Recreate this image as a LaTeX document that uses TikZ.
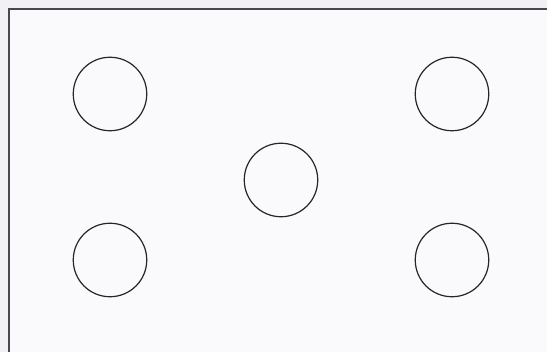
\documentclass[tikz,border=0pt]{standalone}
\usepackage{tikz}
\usepackage{xcolor}
\definecolor{pagebg}{HTML}{F1F1F5}
\definecolor{framebg}{HTML}{FAFAFC}
\definecolor{framedraw}{HTML}{48484C}
\tikzstyle{spot}  = [circle, minimum size=73.5pt, inner sep=0pt, draw=black!85, line width=1.2pt]
\tikzstyle{frame} = [draw=framedraw, line width=2pt, fill=framebg]

\begin{document}
\begin{tikzpicture}[x=1pt, y=1pt]
  \useasboundingbox (0,0) rectangle (547,352);
  \fill[pagebg] (0,0) rectangle (547,352);
  \begin{scope}
    \clip (0,0) rectangle (547,352);
    \draw[frame] (9.2,342.5) rectangle (580,-30);
  \end{scope}

  \node (tl)  [spot] at (110,258) {};
  \node (tr)  [spot] at (452,258) {};
  \node (mid) [spot] at (281,172) {};
  \node (bl)  [spot] at (110,92)  {};
  \node (br)  [spot] at (452,92)  {};
\end{tikzpicture}
\end{document}
